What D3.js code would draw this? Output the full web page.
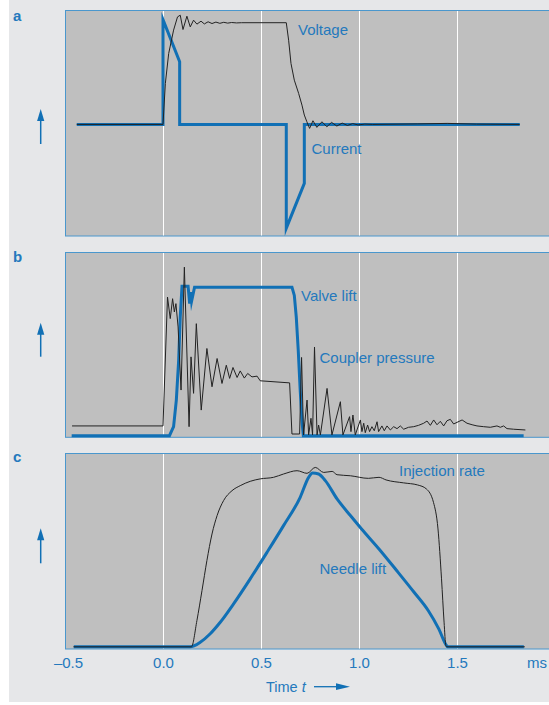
<!DOCTYPE html>
<html><head><meta charset="utf-8">
<script src="https://cdn.jsdelivr.net/npm/d3@7"></script>
<style>
html,body{margin:0;padding:0;background:#fff;}
svg{display:block;}
text{font-family:"Liberation Sans",Arial,Helvetica,sans-serif;}
</style></head><body>
<svg id="chart" width="549" height="705"></svg>
<script>
// ---- data (time in ms, values in arbitrary units) ----
const tickValues = [-0.5, 0, 0.5, 1.0, 1.5];
const tickLabels = ["\u20130.5", "0.0", "0.5", "1.0", "1.5"];
const gridValues = [0, 0.5, 1.0, 1.5];
const unitLabel = "ms";
const axisTitle = "Time";
const axisVar = "t";
const panelLetters = ["a", "b", "c"];
const seriesNames = ["Voltage", "Current", "Valve lift", "Coupler pressure", "Injection rate", "Needle lift"];

const voltage = [[-0.44,0],[0,0],[0.012,40.3],[0.029,69.7],[0.054,92.7],[0.074,105.7],[0.088,107.4],[0.102,93.3],
  [0.122,106.4],[0.139,95.9],[0.156,102.5],[0.173,98.6],[0.194,101.5],[0.211,98.8],[0.230,100.9],[0.250,99.2],
  [0.270,100.6],[0.290,99.4],[0.310,100.4],[0.330,99.6],[0.350,100.2],[0.375,99.8],[0.40,100],[0.629,100],
  [0.641,82.8],[0.653,59.9],[0.670,43.5],[0.692,30.5],[0.709,19],[0.721,9.2],[0.734,2.6],[0.748,-3.9],
  [0.765,3.6],[0.785,-2.9],[0.811,2.6],[0.836,-2.3],[0.860,2.0],[0.887,-1.6],[0.914,1.3],[0.941,-1.0],
  [0.968,0.8],[0.995,-0.5],[1.03,0.3],[1.07,0],[1.30,0.5],[1.45,1],[1.60,0.3],[1.82,0]];
const current = [[-0.44,0],[0,0],[0,103],[0.085,61.6],[0.085,0],[0.629,0],[0.629,-102],[0.721,-58],[0.721,0],[1.82,0]];

const valveLift = [[-0.466,0],[0.033,0],[0.054,6],[0.068,23.8],[0.080,50.5],[0.088,79.3],[0.097,100],[0.128,100],
  [0.136,88.3],[0.142,96],[0.146,90],[0.161,99.3],[0.658,99.3],[0.670,93.8],[0.680,79.3],[0.690,57.1],
  [0.700,30.5],[0.710,8.3],[0.716,0],[1.84,0]];
const couplerPressure = [[-0.464,6.5],[0,6.5],[0.023,92.7],[0.037,78.3],[0.049,91.6],[0.058,82.7],[0.066,88.3],
  [0.077,72.7],[0.092,30.5],[0.109,112.7],[0.133,6.0],[0.143,52.7],[0.156,28.3],[0.170,74.9],[0.195,17.1],
  [0.224,58.3],[0.250,32.7],[0.276,51.6],[0.301,34.9],[0.323,47.1],[0.340,38.3],[0.357,45.6],[0.378,38.9],
  [0.394,43.3],[0.415,38.5],[0.432,41.6],[0.454,39.3],[0.480,39.8],[0.496,36.7],[0.646,35.3],[0.658,1.1],
  [0.697,1.1],[0.707,52.3],[0.717,0.5],[0.735,23.8],[0.743,0.5],[0.755,11.6],[0.763,0.5],[0.773,59.3],
  [0.786,0.5],[0.794,7.1],[0.803,0.5],[0.837,31.6],[0.862,0.5],[0.905,22.7],[0.918,0.5],[0.952,12.7],
  [0.959,2.7],[0.969,13.8],[0.981,0.5],[1.007,10.5],[1.015,2.7],[1.024,8.3],[1.032,2.0],[1.044,7.1],
  [1.054,2.7],[1.066,6.0],[1.078,3.3],[1.092,9.3],[1.100,2.7],[1.117,6.5],[1.129,3.3],[1.143,6.5],
  [1.160,3.8],[1.177,6.0],[1.194,4.7],[1.211,6.5],[1.228,4.3],[1.253,5.6],[1.279,6.0],[1.304,6.9],
  [1.330,8.3],[1.347,9.8],[1.364,6.9],[1.381,10.5],[1.398,7.3],[1.415,9.6],[1.432,6.5],[1.449,10.0],
  [1.466,10.9],[1.483,7.8],[1.500,8.9],[1.526,10.5],[1.551,8.3],[1.577,7.3],[1.602,6.5],[1.636,6.0],
  [1.670,5.6],[1.704,6.5],[1.721,5.6],[1.738,6.5],[1.755,4.7],[1.789,4.3],[1.849,3.8]];

const injectionRate = [[-0.457,0],[0.145,0],[0.173,15.1],[0.199,32.4],[0.224,49.6],[0.250,64.9],[0.276,75.5],
  [0.309,84.1],[0.352,89.8],[0.394,92.7],[0.445,95.2],[0.496,96.6],[0.564,97.5],[0.615,99.4],[0.684,101.3],
  [0.735,99.8],[0.777,103.2],[0.820,100.3],[0.863,100.9],[0.888,99],[0.956,98.4],[1.048,96.9],[1.102,97.5],
  [1.138,96],[1.228,94.3],[1.299,93.1],[1.344,90.8],[1.380,83.1],[1.403,67.8],[1.421,39.1],[1.434,14.2],
  [1.443,0.8],[1.448,0],[1.846,0]];
const needleLift = [[-0.455,0],[0.139,0],[0.190,2.6],[0.241,7.5],[0.292,14.1],[0.360,24.7],[0.445,39.1],
  [0.531,54.4],[0.615,69.7],[0.700,86],[0.743,97.5],[0.763,100],[0.794,99.4],[0.828,95.6],[0.888,85.1],
  [0.956,75.5],[1.013,67.8],[1.102,56.3],[1.192,43.9],[1.281,31.4],[1.353,20.9],[1.407,10.3],[1.446,0.8],
  [1.452,0],[1.841,0]];

// ---- layout & style ----
const BLUE = "#1170b5", TEXT = "#2479bd", BLACK = "#222", BORDER = "#4a97cd";
const svg = d3.select("#chart");
svg.append("rect").attr("x", 9).attr("y", 0).attr("width", 540).attr("height", 702).attr("fill", "#e6e7e9");

const x = d3.scaleLinear().domain([-0.5, 2.0]).range([65, 555]);

const panels = [
  {top: 10.5, bottom: 236, dom: [-109.7, 112], letterY: 21, arrow: [109, 144],
   series: [{d: current, blue: true, curve: d3.curveLinear}, {d: voltage, blue: false, curve: d3.curveLinear}],
   labels: [{t: seriesNames[0], x: 298, y: 35}, {t: seriesNames[1], x: 311.5, y: 154}]},
  {top: 252.5, bottom: 437.3, dom: [-1.1, 122.5], letterY: 262, arrow: [322.7, 356.7],
   series: [{d: valveLift, blue: true, curve: d3.curveLinear}, {d: couplerPressure, blue: false, curve: d3.curveLinear}],
   labels: [{t: seriesNames[2], x: 301, y: 300.5}, {t: seriesNames[3], x: 319.5, y: 362.5}]},
  {top: 453.5, bottom: 649, dom: [-1.26, 111.2], letterY: 462, arrow: [528.3, 563.3],
   series: [{d: needleLift, blue: true, curve: d3.curveMonotoneX}, {d: injectionRate, blue: false, curve: d3.curveMonotoneX}],
   labels: [{t: seriesNames[4], x: 399, y: 476}, {t: seriesNames[5], x: 319.5, y: 574}]}
];

panels.forEach((p, i) => {
  const y = d3.scaleLinear().domain(p.dom).range([p.bottom, p.top]);
  const g = svg.append("g");
  g.append("rect").attr("x", 65.5).attr("y", p.top).attr("width", 520).attr("height", p.bottom - p.top)
    .attr("fill", "#bfbfbf").attr("stroke", BORDER).attr("stroke-width", 1);
  g.selectAll("line.grid").data(gridValues).join("line").attr("class", "grid")
    .attr("x1", d => Math.round(x(d)) + 0.5).attr("x2", d => Math.round(x(d)) + 0.5)
    .attr("y1", p.top + 0.5).attr("y2", p.bottom - 0.5)
    .attr("stroke", "#fff").attr("stroke-width", 1);
  p.series.forEach(s => {
    const line = d3.line().x(d => x(d[0])).y(d => y(d[1])).curve(s.curve);
    g.append("path").attr("d", line(s.d)).attr("fill", "none")
      .attr("stroke", s.blue ? BLUE : BLACK)
      .attr("stroke-width", s.blue ? 3 : 1)
      .attr("stroke-linejoin", s.blue ? "miter" : "round")
      .attr("stroke-miterlimit", 10);
  });
  p.labels.forEach(l => {
    g.append("text").attr("x", l.x).attr("y", l.y).attr("fill", TEXT).attr("font-size", 15).text(l.t);
  });
  svg.append("text").attr("x", 13).attr("y", p.letterY).attr("fill", TEXT)
    .attr("font-size", 15).attr("font-weight", "bold").text(panelLetters[i]);
  const ax = 40.7;
  svg.append("line").attr("x1", ax).attr("x2", ax).attr("y1", p.arrow[1]).attr("y2", p.arrow[0] + 8)
    .attr("stroke", BLUE).attr("stroke-width", 1.5);
  svg.append("path").attr("d", `M${ax},${p.arrow[0]} L${ax - 3.6},${p.arrow[0] + 12} L${ax + 3.6},${p.arrow[0] + 12} Z`)
    .attr("fill", BLUE);
});

// x axis
const axis = d3.axisBottom(x).tickValues(tickValues).tickFormat((d, i) => tickLabels[i]).tickSize(0).tickPadding(8);
const ag = svg.append("g").attr("transform", "translate(0,649)").call(axis);
ag.select(".domain").remove();
ag.selectAll("text").attr("fill", TEXT).attr("font-size", 15)
  .attr("font-family", '"Liberation Sans",Arial,sans-serif')
  .attr("dx", (d, i) => i === 0 ? 3 : 0);
svg.append("text").attr("x", 527).attr("y", 668.3).attr("fill", TEXT).attr("font-size", 15).text(unitLabel);

// axis title with arrow
const tt = svg.append("text").attr("x", 266).attr("y", 691.5).attr("fill", TEXT).attr("font-size", 14.5);
tt.append("tspan").text(axisTitle + " ");
tt.append("tspan").attr("font-style", "italic").text(axisVar);
svg.append("line").attr("x1", 314).attr("x2", 340).attr("y1", 686.7).attr("y2", 686.7).attr("stroke", BLUE).attr("stroke-width", 1.3);
svg.append("path").attr("d", "M350,686.7 L336,683.3 L336,690.1 Z").attr("fill", BLUE);
</script>
</body></html>
